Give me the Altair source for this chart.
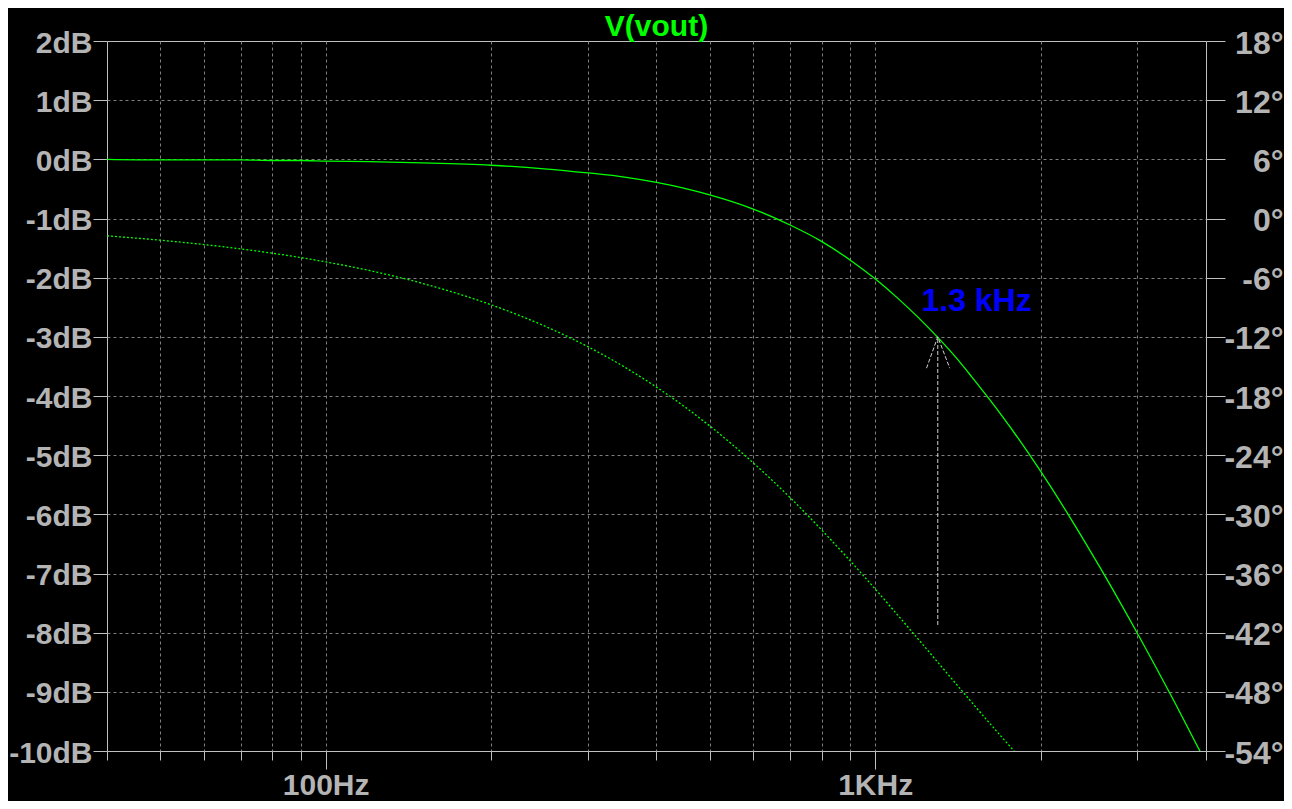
import altair as alt
import pandas as pd

# ---- data ----
freq_hz = [40, 50, 60, 70, 80, 90, 100, 120, 150, 200, 250, 300, 350, 400, 450, 500,
           600, 700, 800, 900, 1000, 1100, 1200, 1300, 1400, 1500, 1700, 2000, 2300,
           2600, 3000, 3500, 4000]
mag_db = [0.00, -0.01, -0.01, -0.01, -0.02, -0.02, -0.03, -0.04, -0.06, -0.10, -0.16,
          -0.23, -0.30, -0.39, -0.49, -0.60, -0.84, -1.11, -1.39, -1.70, -2.02, -2.35,
          -2.68, -3.01, -3.34, -3.68, -4.33, -5.27, -6.16, -6.99, -8.01, -9.16, -10.20]

phase_freq_hz = [40, 50, 60, 70, 80, 90, 100, 120, 150, 200, 250, 300, 350, 400, 450,
                 500, 600, 700, 800, 900, 1000, 1100, 1200, 1300, 1400, 1500, 1700,
                 1800, 2000]
phase_deg = [-1.76, -2.20, -2.64, -3.08, -3.52, -3.96, -4.40, -5.27, -6.58, -8.75,
             -10.89, -13.00, -15.07, -17.10, -19.09, -21.04, -24.78, -28.30, -31.61,
             -34.70, -37.57, -40.24, -42.71, -45.00, -47.12, -49.09, -52.60, -54.16,
             -56.98]

marker_text = ["1.3 kHz"]
marker_text_freq = [1214]
marker_text_db = [-2.56]

arrow_freq = [1300]
arrow_tail_db = [-7.87]
arrow_tip_db = [-3.0]

head_freq = [1240, 1300, 1367]
head_db = [-3.53, -3.0, -3.53]
head_order = [0, 1, 2]

x_ticks = [40, 50, 60, 70, 80, 90, 100, 200, 300, 400, 500, 600, 700, 800, 900,
           1000, 2000, 3000, 4000]
db_ticks = list(range(-10, 3))
deg_ticks = list(range(-54, 19, 6))

title_text = ["V(vout)"]
title_freq = [400]   # centre of the 40 Hz .. 4 kHz log axis
title_db = [2]       # top edge of the plot

# ---- tables ----
mag_df = pd.DataFrame({"f": freq_hz, "db": mag_db})
phase_df = pd.DataFrame({"f": phase_freq_hz, "deg": phase_deg})
text_df = pd.DataFrame({"f": marker_text_freq, "db": marker_text_db, "label": marker_text})
title_df = pd.DataFrame({"f": title_freq, "db": title_db, "label": title_text})
arrow_df = pd.DataFrame({"f": arrow_freq, "db": arrow_tail_db, "db2": arrow_tip_db})
head_df = pd.DataFrame({"f": head_freq, "db": head_db, "o": head_order})

FONT = "Liberation Sans"
LABEL_COLOR = "#b4b4b4"
AXIS_COLOR = "#c0c0c0"
GRID_COLOR = "#808080"
GREEN = "#00ff00"

x_enc = alt.X(
    "f:Q",
    scale=alt.Scale(type="log", domain=[40, 4000], nice=False),
    axis=alt.Axis(
        title=None,
        values=x_ticks,
        domain=False,
        grid=True,
        gridColor=GRID_COLOR,
        gridDash=[3, 3],
        gridWidth=1,
        gridOpacity={"condition": {"test": "datum.value == 40 || datum.value == 4000", "value": 0}, "value": 1},
        ticks=True,
        tickColor=AXIS_COLOR,
        tickSize={"condition": {"test": "datum.value == 100 || datum.value == 1000", "value": 18}, "value": 9},
        labelExpr="datum.value == 100 ? '100Hz' : (datum.value == 1000 ? '1KHz' : '')",
        labelFont=FONT,
        labelFontSize=30,
        labelFontWeight="bold",
        labelColor=LABEL_COLOR,
        labelBaseline="alphabetic",
        labelPadding=25,
        labelOverlap=False,
        labelFlush=False,
        labelBound=False,
    ),
)

y_enc = alt.Y(
    "db:Q",
    scale=alt.Scale(domain=[-10, 2], nice=False, zero=False),
    axis=alt.Axis(
        title=None,
        orient="left",
        values=db_ticks,
        domain=False,
        grid=True,
        gridColor=GRID_COLOR,
        gridDash=[3, 3],
        gridWidth=1,
        gridOpacity={"condition": {"test": "datum.value == 2 || datum.value == -10", "value": 0}, "value": 1},
        tickColor=AXIS_COLOR,
        tickSize=14,
        labelExpr="datum.value + 'dB'",
        labelFont=FONT,
        labelFontSize=30,
        labelFontWeight="bold",
        labelColor=LABEL_COLOR,
        labelPadding=1,
        labelOffset=2,
        labelOverlap=False,
        labelBound=False,
        labelFlush=False,
    ),
)

mag = alt.Chart(mag_df).mark_line(color=GREEN, strokeWidth=1.3, clip=True,
                                  interpolate="monotone").encode(x=x_enc, y=y_enc)

arrow = alt.Chart(arrow_df).mark_rule(color="#d0d0d0", strokeWidth=1,
                                      strokeDash=[4, 2]).encode(x=x_enc, y=y_enc, y2="db2:Q")

head = alt.Chart(head_df).mark_line(color="#d0d0d0", strokeWidth=1,
                                    strokeDash=[4, 2]).encode(x=x_enc, y=y_enc, order="o:Q")

label = alt.Chart(text_df).mark_text(
    color="#0000ff", font=FONT, fontSize=32, fontWeight="bold",
    align="left", baseline="alphabetic"
).encode(x=x_enc, y=y_enc, text="label:N")

title = alt.Chart(title_df).mark_text(
    color=GREEN, font=FONT, fontSize=30, fontWeight="bold",
    align="center", baseline="alphabetic", dy=-5.5
).encode(x=x_enc, y=y_enc, text="label:N")

left_layer = alt.layer(mag, arrow, head, label, title)

phase = alt.Chart(phase_df).mark_line(
    color=GREEN, strokeWidth=1.3, strokeDash=[2, 2], clip=True, interpolate="monotone"
).encode(
    x=x_enc,
    y=alt.Y(
        "deg:Q",
        scale=alt.Scale(domain=[-54, 18], nice=False, zero=False),
        axis=alt.Axis(
            title=None,
            orient="right",
            values=deg_ticks,
            domain=False,
            grid=False,
            tickColor=AXIS_COLOR,
            tickSize=19,
            labelExpr="datum.value + '°'",
            labelFont=FONT,
            labelFontSize=32,
            labelFontWeight="bold",
            labelColor=LABEL_COLOR,
            labelAlign="right",
            labelPadding=58,
            labelOffset=2,
            labelOverlap=False,
            labelBound=False,
            labelFlush=False,
        ),
    ),
)

chart = (
    alt.layer(left_layer, phase)
    .resolve_scale(y="independent")
    .properties(
        width=1099,
        height=710,
        padding={"left": 99, "top": 33, "right": 78, "bottom": 50},
        autosize=alt.AutoSizeParams(type="none"),
        background="#000000",
    )
    .configure_view(stroke=AXIS_COLOR, strokeWidth=1, fill="#000000")
)

chart.save("out.html", embed_options={"renderer": "svg", "actions": False})
